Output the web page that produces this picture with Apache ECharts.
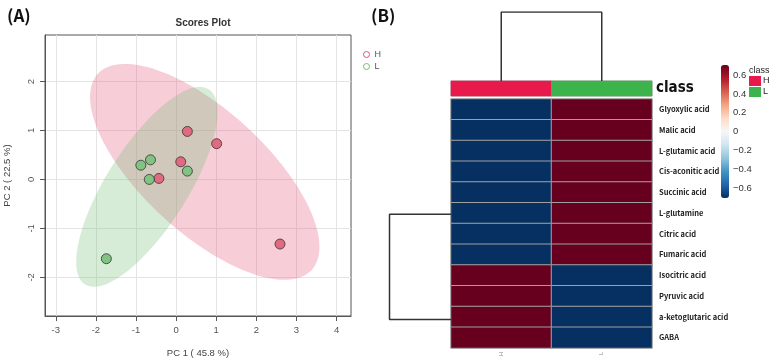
<!DOCTYPE html>
<html><head><meta charset="utf-8">
<script src="https://cdn.jsdelivr.net/npm/echarts@6/dist/echarts.min.js"></script>
<style>html,body{margin:0;padding:0;background:#fff}#c{width:776px;height:363px}</style>
</head><body><div id="c"></div>
<script>
// ---------- data ----------
const groups = ['H', 'L'];
const pcaH = [[0.28, 0.98], [1.01, 0.73], [0.115, 0.36], [-0.43, 0.02], [2.59, -1.32]];
const pcaL = [[-0.88, 0.29], [-0.64, 0.40], [0.28, 0.17], [-0.67, 0.00], [-1.74, -1.62]];
const xTicks = [-3, -2, -1, 0, 1, 2, 3, 4];
const yTicks = [-2, -1, 0, 1, 2];
const metabolites = ['Glyoxylic acid', 'Malic acid', 'L-glutamic acid', 'Cis-aconitic acid', 'Succinic acid', 'L-glutamine', 'Citric acid', 'Fumaric acid', 'Isocitric acid', 'Pyruvic acid', 'a-ketoglutaric acid', 'GABA'];
const valuesH = [-0.707, -0.707, -0.707, -0.707, -0.707, -0.707, -0.707, -0.707, 0.707, 0.707, 0.707, 0.707];
const valuesL = [0.707, 0.707, 0.707, 0.707, 0.707, 0.707, 0.707, 0.707, -0.707, -0.707, -0.707, -0.707];
const colorbarTicks = [-0.6, -0.4, -0.2, 0, 0.2, 0.4, 0.6];
const colMergeHeight = 1;
const rowClusterPos = [5.56, 10.63];
const rowMergeHeight = 1;

// ---------- derived ----------
function confEllipse(pts) {
  const n = pts.length;
  let mx = 0, my = 0;
  pts.forEach(p => { mx += p[0]; my += p[1]; });
  mx /= n; my /= n;
  let sxx = 0, syy = 0, sxy = 0;
  pts.forEach(p => { const dx = p[0] - mx, dy = p[1] - my; sxx += dx * dx; syy += dy * dy; sxy += dx * dy; });
  sxx /= (n - 1); syy /= (n - 1); sxy /= (n - 1);
  const t = Math.sqrt(5.991464547);
  const a = Math.sqrt(sxx), b = sxy / a, c = Math.sqrt(Math.max(syy - b * b, 0));
  const out = [];
  for (let i = 0; i < 120; i++) {
    const th = 2 * Math.PI * i / 120, u = Math.cos(th), v = Math.sin(th);
    out.push([mx + t * a * u, my + t * (b * u + c * v)]);
  }
  return { center: [mx, my], pts: out };
}
const ellH = confEllipse(pcaH), ellL = confEllipse(pcaL);
const heatData = [];
metabolites.forEach((m, i) => { heatData.push([0, i, valuesH[i]]); heatData.push([1, i, valuesL[i]]); });
const classData = groups.map((g, i) => [i, 0, i]);
const colDendro = [[0.5, 0], [0.5, colMergeHeight], [1.5, colMergeHeight], [1.5, 0]];
const rowDendro = [[0, rowClusterPos[0]], [rowMergeHeight, rowClusterPos[0]], [rowMergeHeight, rowClusterPos[1]], [0, rowClusterPos[1]]];

const FONT = "'Liberation Sans', Arial, sans-serif";
const KFONT = "'Noto Sans CJK KR', 'Noto Sans', sans-serif";
const rdbu = ['#053061', '#2166AC', '#4393C3', '#92C5DE', '#D1E5F0', '#F7F7F7', '#FDDBC7', '#F4A582', '#D6604D', '#B2182B', '#67001F'];
const hidden = { show: false };

const chart = echarts.init(document.getElementById('c'), null, { renderer: 'canvas' });
chart.setOption({
  backgroundColor: '#fff',
  animation: false,
  title: [
    { text: '(A)', left: 2, top: 2, textStyle: { fontFamily: KFONT, fontWeight: 'bold', fontSize: 17, color: '#111' } },
    { text: '(B)', left: 366, top: 2, textStyle: { fontFamily: KFONT, fontWeight: 'bold', fontSize: 17, color: '#111' } },
    { text: 'Scores Plot', left: 198, textAlign: 'center', top: 13, textStyle: { fontFamily: FONT, fontWeight: 'bold', fontSize: 10, color: '#333' } }
  ],
  legend: {
    left: 363, top: 50, orient: 'vertical', padding: 0, itemWidth: 6, itemHeight: 6, itemGap: 3,
    textStyle: { fontFamily: FONT, fontSize: 9, color: '#555' },
    data: [
      { name: 'H', icon: 'circle', itemStyle: { color: '#fff', borderColor: '#e0507a', borderWidth: 1 } },
      { name: 'L', icon: 'circle', itemStyle: { color: '#fff', borderColor: '#6fbf6f', borderWidth: 1 } }
    ]
  },
  grid: [
    { left: 45, top: 35, width: 306, height: 286, show: true, borderColor: '#555', borderWidth: 1 },
    { left: 451, top: 99, width: 201, height: 249 },
    { left: 451, top: 81, width: 201, height: 15, show: true, borderColor: '#999', borderWidth: 1 },
    { left: 451, top: 12, width: 201, height: 69 },
    { left: 389.5, top: 99, width: 61.5, height: 249 },
    { left: 721, top: 65, width: 8, height: 133 }
  ],
  xAxis: [
    { gridIndex: 0, type: 'value', min: -3.27, max: 4.36, position: 'bottom',
      name: 'PC 1 ( 45.8 %)', nameLocation: 'middle', nameGap: 32,
      nameTextStyle: { fontFamily: FONT, fontSize: 9.5, color: '#444' },
      axisLine: { show: true, onZero: false, lineStyle: { color: '#555', width: 1 } },
      axisTick: { show: true, inside: false, length: 5, customValues: xTicks, lineStyle: { color: '#555' } },
      axisLabel: { customValues: xTicks, fontFamily: FONT, fontSize: 9.5, color: '#555', margin: 9 },
      splitLine: { show: true, lineStyle: { color: '#e4e4e4', width: 1 } } },
    { gridIndex: 1, type: 'category', data: groups, position: 'bottom',
      axisLine: hidden, axisTick: hidden,
      axisLabel: { rotate: 90, fontFamily: FONT, fontSize: 6, color: '#888', margin: 4 } },
    { gridIndex: 2, type: 'category', data: groups, show: false },
    { gridIndex: 3, type: 'value', min: 0, max: 2, show: false },
    { gridIndex: 4, type: 'value', min: 0, max: rowMergeHeight, inverse: true, show: false },
    { gridIndex: 5, type: 'value', show: false }
  ],
  yAxis: [
    { gridIndex: 0, type: 'value', min: -2.79, max: 2.95, position: 'left',
      name: 'PC 2 ( 22.5 %)', nameLocation: 'middle', nameGap: 33, nameRotate: 90,
      nameTextStyle: { fontFamily: FONT, fontSize: 9.5, color: '#444' },
      axisLine: { show: true, onZero: false, lineStyle: { color: '#555', width: 1 } },
      axisTick: { show: true, inside: false, length: 5, customValues: yTicks, lineStyle: { color: '#555' } },
      axisLabel: { customValues: yTicks, rotate: 90, fontFamily: FONT, fontSize: 9.5, color: '#555', margin: 9 },
      splitLine: { show: true, lineStyle: { color: '#e4e4e4', width: 1 } } },
    { gridIndex: 1, type: 'category', data: metabolites, inverse: true, position: 'right',
      axisLine: hidden, axisTick: hidden,
      axisLabel: { fontFamily: KFONT, fontWeight: 'bold', fontSize: 7.5, color: '#222', margin: 7 } },
    { gridIndex: 2, type: 'category', data: ['class'], position: 'right',
      axisLine: hidden, axisTick: hidden,
      axisLabel: { fontFamily: "'Liberation Sans Narrow', 'DejaVu Sans Condensed', sans-serif", fontWeight: 'bold', fontSize: 15, color: '#111', margin: 4 } },
    { gridIndex: 3, type: 'value', min: 0, max: colMergeHeight, show: false },
    { gridIndex: 4, type: 'value', min: 0, max: metabolites.length, inverse: true, show: false },
    { gridIndex: 5, type: 'value', min: -0.7071, max: 0.7071, position: 'right',
      axisLine: hidden, axisTick: hidden, splitLine: hidden,
      axisLabel: { customValues: colorbarTicks, margin: 4, fontFamily: FONT, fontSize: 9.5, color: '#333',
        formatter: v => (v < 0 ? '\u2212' + Math.abs(v).toFixed(1) : (v === 0 ? '0' : v.toFixed(1))) } }
  ],
  visualMap: [
    { type: 'continuous', seriesIndex: 4, min: -0.7071, max: 0.7071, calculable: false,
      left: 721, top: 65, itemWidth: 8, itemHeight: 133, padding: 0, text: null,
      inRange: { color: rdbu } },
    { type: 'piecewise', seriesIndex: 5, inverse: true, showLabel: true, text: ['class'], align: 'left',
      left: 749, top: 66, padding: 0, itemWidth: 12, itemHeight: 10, itemGap: 1, itemSymbol: 'rect',
      textGap: 2,
      textStyle: { fontFamily: FONT, fontSize: 9, color: '#222' },
      pieces: [{ value: 0, label: 'H', color: '#E8194B' }, { value: 1, label: 'L', color: '#3CB44B' }] }
  ],
  series: [
    { type: 'custom', xAxisIndex: 0, yAxisIndex: 0, silent: true, z: 1,
      data: [ellH.center],
      renderItem: (p, api) => ({ type: 'polygon', shape: { points: ellH.pts.map(q => api.coord(q)) },
        style: { fill: 'rgba(228,88,125,0.3)' } }) },
    { type: 'custom', xAxisIndex: 0, yAxisIndex: 0, silent: true, z: 1,
      data: [ellL.center],
      renderItem: (p, api) => ({ type: 'polygon', shape: { points: ellL.pts.map(q => api.coord(q)) },
        style: { fill: 'rgba(118,191,118,0.3)' } }) },
    { name: 'H', type: 'scatter', xAxisIndex: 0, yAxisIndex: 0, z: 3, data: pcaH, symbolSize: 10,
      itemStyle: { color: '#e26a80', borderColor: '#333', borderWidth: 0.8, opacity: 1 } },
    { name: 'L', type: 'scatter', xAxisIndex: 0, yAxisIndex: 0, z: 3, data: pcaL, symbolSize: 10,
      itemStyle: { color: '#82c282', borderColor: '#333', borderWidth: 0.8, opacity: 1 } },
    { type: 'heatmap', xAxisIndex: 1, yAxisIndex: 1, data: heatData,
      itemStyle: { borderColor: '#a0a0a0', borderWidth: 1 } },
    { type: 'heatmap', xAxisIndex: 2, yAxisIndex: 2, data: classData,
      itemStyle: { borderWidth: 0 } },
    { type: 'line', xAxisIndex: 3, yAxisIndex: 3, data: colDendro, symbol: 'none',
      lineStyle: { color: '#333', width: 1.5 } },
    { type: 'line', xAxisIndex: 4, yAxisIndex: 4, data: rowDendro, symbol: 'none',
      lineStyle: { color: '#333', width: 1.5 } }
  ]
});
</script></body></html>
